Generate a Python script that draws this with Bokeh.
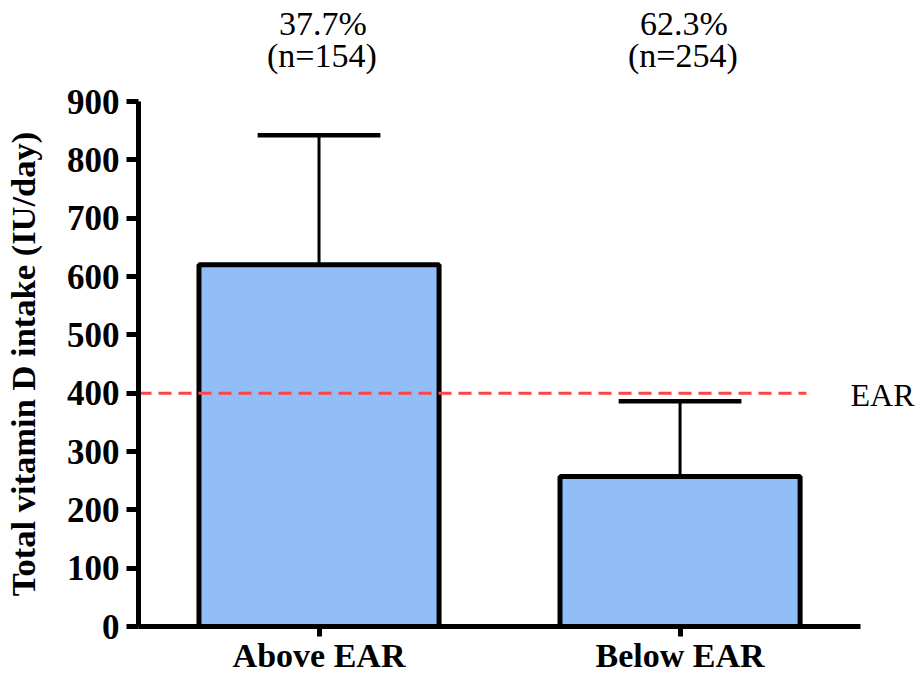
from bokeh.plotting import figure
from bokeh.layouts import column
from bokeh.models import Range1d, FixedTicker, Label
from bokeh.core.properties import value
from bokeh.embed import file_html
from bokeh.resources import INLINE

# Data: total vitamin D intake by group (mean with upper SD whisker)
categories = ["Above EAR", "Below EAR"]
mean_intake = [620, 257]
sd_intake = [222, 129]
share_labels = ["37.7%", "62.3%"]
count_labels = ["(n=154)", "(n=254)"]
ear_value = 400
y_ticks = [0, 100, 200, 300, 400, 500, 600, 700, 800, 900]

xs = list(range(len(categories)))
upper = [m + s for m, s in zip(mean_intake, sd_intake)]

FONT = "Liberation Serif"

# Layout: a strip for the group labels on top, the chart below.
# The chart frame reaches the right canvas edge so the "EAR" label fits,
# while the x axis stays bounded to the category area.
W = 920
TOP_H, MAIN_H = 81, 596
LEFT, MAIN_TOP, BOTTOM = 137, 20, 51
AXIS_W = 723
x_lo, x_hi = -0.5, len(categories) - 0.5
x_end = x_lo + (x_hi - x_lo) * (W - LEFT) / AXIS_W
x_range = Range1d(x_lo, x_end)

# ---- group share / count strip ----
top = figure(
    width=W, height=TOP_H, x_range=x_range, y_range=Range1d(0, TOP_H),
    output_backend="svg", toolbar_location=None,
    x_axis_location=None, y_axis_location=None,
    min_border_left=LEFT, min_border_right=0, min_border_top=0, min_border_bottom=0,
)
top.outline_line_color = None
top.xgrid.grid_line_color = None
top.ygrid.grid_line_color = None
top.text(x=[x + 0.011 for x in xs], y=[TOP_H - 23] * len(xs), text=share_labels,
         text_align="center", text_baseline="middle", text_font=value(FONT),
         text_font_size="34px", text_color="black")
top.text(x=[x + 0.008 for x in xs], y=[TOP_H - 55] * len(xs), text=count_labels,
         text_align="center", text_baseline="middle", text_font=value(FONT),
         text_font_size="34px", text_color="black")

# ---- main chart ----
p = figure(
    width=W, height=MAIN_H,
    x_range=x_range, y_range=Range1d(0, 900),
    output_backend="svg", toolbar_location=None,
    min_border_left=LEFT, min_border_right=0,
    min_border_top=MAIN_TOP, min_border_bottom=BOTTOM,
)
p.outline_line_color = None
p.xgrid.grid_line_color = None
p.ygrid.grid_line_color = None

# Error bar stems and caps
p.segment(x0=xs, y0=mean_intake, x1=xs, y1=upper, line_color="black", line_width=3)
p.segment(x0=[x - 0.17 for x in xs], y0=upper, x1=[x + 0.17 for x in xs], y1=upper,
          line_color="black", line_width=4.5)

# Bars
p.vbar(x=xs, top=mean_intake, bottom=0, width=0.665,
       fill_color="#92BEF8", line_color="black", line_width=5)

# EAR reference line
p.segment(x0=[x_lo], y0=[ear_value], x1=[1.35], y1=[ear_value],
          line_color="#FF4444", line_width=3, line_dash="13 7")
p.add_layout(Label(x=x_hi, y=ear_value, x_offset=-10, y_offset=-2, text="EAR",
                   text_align="left", text_baseline="middle",
                   text_font=FONT, text_font_size="32px", text_color="black"))

# Y axis
yax = p.yaxis[0]
yax.ticker = FixedTicker(ticks=y_ticks)
yax.axis_label = "Total vitamin D intake (IU/day)"
yax.axis_label_text_font = FONT
yax.axis_label_text_font_size = "34.5px"
yax.axis_label_text_font_style = "bold"
yax.axis_label_text_color = "black"
yax.axis_label_standoff = 22
yax.major_label_text_font = FONT
yax.major_label_text_font_size = "35px"
yax.major_label_text_font_style = "bold"
yax.major_label_text_color = "black"
yax.major_label_standoff = 7
yax.axis_line_width = 5
yax.axis_line_color = "black"
yax.major_tick_line_width = 5
yax.major_tick_line_color = "black"
yax.major_tick_out = 12
yax.major_tick_in = 0
yax.minor_tick_line_color = None

# X axis
xax = p.xaxis[0]
xax.bounds = (x_lo, x_hi)
xax.ticker = FixedTicker(ticks=xs)
xax.major_label_overrides = {x: c for x, c in zip(xs, categories)}
xax.major_label_text_font = FONT
xax.major_label_text_font_size = "34px"
xax.major_label_text_font_style = "bold"
xax.major_label_text_color = "black"
xax.major_label_standoff = 0
xax.axis_line_width = 5
xax.axis_line_color = "black"
xax.major_tick_line_width = 5
xax.major_tick_line_color = "black"
xax.major_tick_out = 10
xax.major_tick_in = 0
xax.minor_tick_line_color = None

layout = column(top, p, spacing=0)
open("out.html", "w").write(file_html(layout, INLINE))
